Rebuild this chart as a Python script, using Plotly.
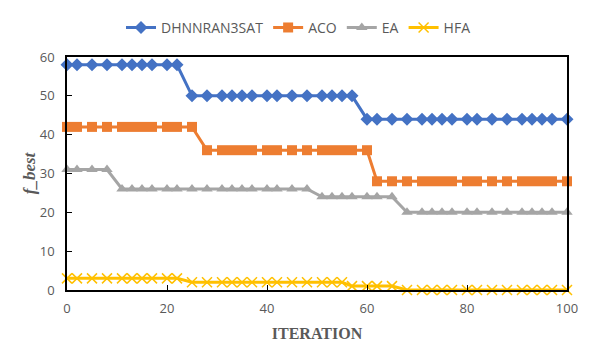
import plotly.graph_objects as go

iterations = [0, 2, 5, 8, 11, 13, 15, 17, 20, 22, 25, 28, 31, 33, 35, 37, 40, 42, 45, 48,
              51, 53, 55, 57, 60, 62, 65, 68, 71, 73, 75, 77, 80, 82, 85, 88, 91, 93, 95, 97, 100]

dhnn = [58]*10 + [50]*14 + [44]*17
aco = [42]*11 + [36]*14 + [28]*16
ea = [31]*4 + [26]*16 + [24]*7 + [20]*14
hfa = [3]*10 + [2]*13 + [1]*4 + [0]*14

series = [
    ("DHNNRAN3SAT", dhnn, "#4472C4", "diamond", 10),
    ("ACO", aco, "#ED7D31", "square", 10),
    ("EA", ea, "#A5A5A5", "triangle-up", 10),
    ("HFA", hfa, "#FFC000", "x-thin", 10),
]

fig = go.Figure()
for name, vals, color, sym, size in series:
    marker = dict(symbol=sym, size=size, color=color)
    if sym == "x-thin":
        marker["line"] = dict(color=color, width=1.5)
    fig.add_trace(go.Scatter(
        x=iterations, y=vals, name=name, mode="lines+markers",
        line=dict(color=color, width=3), marker=marker, cliponaxis=False,
    ))

axis_font = dict(family="Open Sans", size=13, color="#595959")

fig.update_layout(
    width=603, height=343,
    margin=dict(l=59, r=44, t=49, b=61, autoexpand=False),
    paper_bgcolor="white", plot_bgcolor="white",
    showlegend=True,
    legend=dict(orientation="h", x=0.463, xanchor="center", y=1.125, yanchor="middle",
                font=dict(family="Open Sans", size=14, color="#595959"),
                itemwidth=30, tracegroupgap=0),
)
fig.update_xaxes(
    range=[0, 100], tickvals=[0, 20, 40, 60, 80, 100], showgrid=False, zeroline=False,
    showline=True, linecolor="black", linewidth=1.5, mirror=True, automargin=False,
    ticks="inside", ticklen=5, tickcolor="black", tickfont=axis_font, ticklabelstandoff=6,
    title=dict(text="<b>ITERATION</b>", font=dict(family="Liberation Serif", size=16, color="#595959"), standoff=11),
)
fig.update_yaxes(
    range=[0, 60], tickvals=[0, 10, 20, 30, 40, 50, 60], showgrid=False, zeroline=False,
    showline=True, linecolor="black", linewidth=1.5, mirror=True, automargin=False,
    ticks="inside", ticklen=5, tickcolor="black", tickfont=axis_font, ticklabelstandoff=8,
    title=dict(text="<b><i>f_best</i></b>", font=dict(family="Liberation Serif", size=17, color="#595959"), standoff=0),
)

fig.write_html("out.html")
